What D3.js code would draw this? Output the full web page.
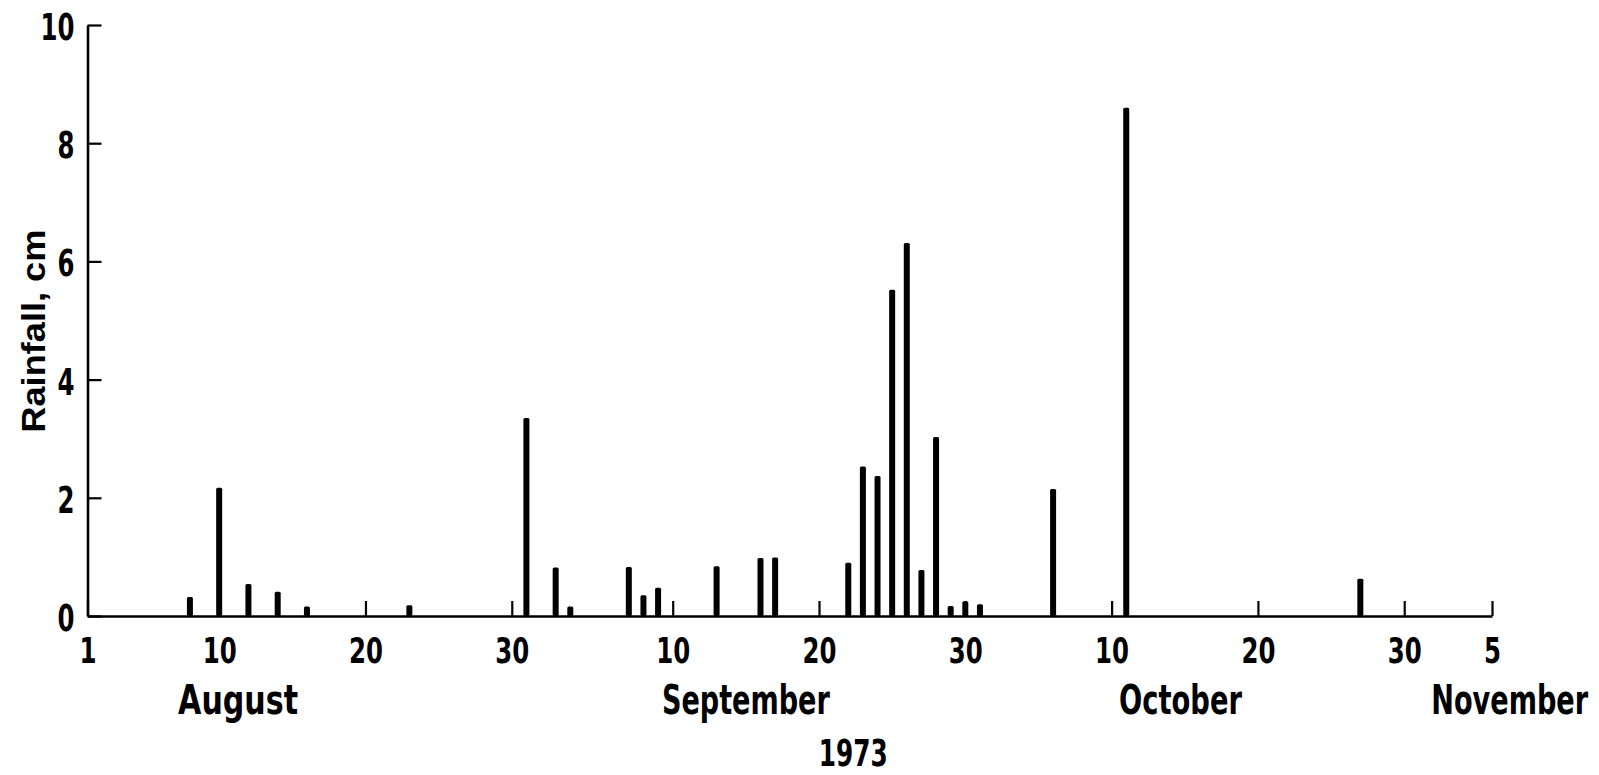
<!DOCTYPE html>
<html>
<head>
<meta charset="utf-8">
<script src="https://cdn.jsdelivr.net/npm/d3@7"></script>
<style>
  html, body { margin: 0; padding: 0; background: #fff; }
  svg { display: block; }
  .tick text { font-family: "Liberation Sans Narrow", "DejaVu Sans Condensed", sans-serif; font-weight: bold; fill: #000; }
  .lbl { font-family: "Liberation Sans Narrow", "DejaVu Sans Condensed", sans-serif; font-weight: bold; fill: #000; }
</style>
</head>
<body>
<svg id="chart" width="1599" height="775"></svg>
<script>
// ---- data ----
const rainDates = [
  "1973-08-08","1973-08-10","1973-08-12","1973-08-14","1973-08-16","1973-08-23","1973-08-31",
  "1973-09-02","1973-09-03","1973-09-07","1973-09-08","1973-09-09","1973-09-13","1973-09-16",
  "1973-09-17","1973-09-22","1973-09-23","1973-09-24","1973-09-25","1973-09-26","1973-09-27",
  "1973-09-28","1973-09-29","1973-09-30","1973-10-01","1973-10-06","1973-10-11","1973-10-27"
];
const rainfallCm = [
  0.32, 2.17, 0.54, 0.41, 0.16, 0.18, 3.35,
  0.82, 0.16, 0.83, 0.35, 0.48, 0.84, 0.98,
  0.99, 0.90, 2.53, 2.37, 5.52, 6.31, 0.78,
  3.03, 0.17, 0.25, 0.20, 2.15, 8.60, 0.63
];
const xTickDates  = ["1973-08-01","1973-08-10","1973-08-20","1973-08-30","1973-09-10","1973-09-20",
                     "1973-09-30","1973-10-10","1973-10-20","1973-10-30","1973-11-05"];
const xTickLabels = ["1","10","20","30","10","20","30","10","20","30","5"];
const yTickValues = [0, 2, 4, 6, 8, 10];
const monthLabels = ["August","September","October","November"];
const monthAnchors = ["1973-08-11T07:00Z","1973-09-15T00:00Z","1973-10-14T17:00Z","1973-11-06T05:00Z"];
const monthWidths = [120, 168, 123, 157];
const yearLabel = "1973";
const yearAnchor = "1973-09-22T08:00Z";
const yAxisTitle = "Rainfall, cm";

// ---- scales ----
const parse = s => new Date(s.length === 10 ? s + "T00:00Z" : s);
const x = d3.scaleUtc()
  .domain([parse("1973-08-01"), parse("1973-11-05")])
  .range([87.5, 1492]);
const y = d3.scaleLinear().domain([0, 10]).range([616, 25]);

const svg = d3.select("#chart");

// squeeze a text horizontally to a target width around its anchor point
function squeeze(sel, tx, ty, widthFn) {
  sel.each(function (d, i) {
    const t = d3.select(this);
    const w = this.getComputedTextLength();
    const target = widthFn(d, i, this);
    const sx = w > 0 ? target / w : 1;
    const px = typeof tx === "function" ? tx(d, i) : tx;
    const py = typeof ty === "function" ? ty(d, i) : ty;
    t.attr("x", 0).attr("y", 0)
     .attr("transform", `translate(${px},${py}) scale(${sx},1)`);
  });
}

// ---- bars ----
const barW = 6;
svg.append("g").selectAll("rect")
  .data(rainDates.map((d, i) => ({ date: parse(d), v: rainfallCm[i] })))
  .join("rect")
  .attr("x", d => x(d.date) - barW / 2)
  .attr("y", d => y(d.v))
  .attr("width", barW)
  .attr("height", d => y(0) - y(d.v))
  .attr("rx", 1.5)
  .attr("fill", "#000");

// ---- x axis ----
const xAxis = d3.axisBottom(x)
  .tickValues(xTickDates.map(parse))
  .tickFormat((d, i) => xTickLabels[i])
  .tickSizeInner(-15)
  .tickSizeOuter(0);
const gx = svg.append("g").attr("transform", `translate(0,${y(0)})`).call(xAxis);
gx.select(".domain").attr("stroke", "#000").attr("stroke-width", 2.6);
gx.selectAll(".tick line").attr("stroke", "#000").attr("stroke-width", 2.2);
const xt = gx.selectAll(".tick text").attr("dy", 0).style("font-size", "36px");
squeeze(xt, 0, 47, (d, i, el) => 17 * el.textContent.length);

// ---- y axis ----
const yAxis = d3.axisLeft(y)
  .tickValues(yTickValues)
  .tickFormat(d3.format("d"))
  .tickSizeInner(-14)
  .tickSizeOuter(0)
  .tickPadding(13);
const gy = svg.append("g").attr("transform", `translate(${x(parse("1973-08-01"))},0)`).call(yAxis);
gy.select(".domain").attr("stroke", "#000").attr("stroke-width", 2.6);
gy.selectAll(".tick line").attr("stroke", "#000").attr("stroke-width", 2.2);
const yt = gy.selectAll(".tick text").attr("dy", "0.38em").style("font-size", "38px");
squeeze(yt, -13, 0, (d, i, el) => 17 * el.textContent.length);

// ---- labels ----
const ml = svg.append("g").selectAll("text")
  .data(monthLabels)
  .join("text")
  .attr("class", "lbl")
  .attr("text-anchor", "middle")
  .style("font-size", "40px")
  .text(d => d);
squeeze(ml, (d, i) => x(parse(monthAnchors[i])), 714, (d, i) => monthWidths[i]);

const yl = svg.append("text")
  .attr("class", "lbl")
  .attr("text-anchor", "middle")
  .style("font-size", "37px")
  .text(yearLabel);
squeeze(yl, x(parse(yearAnchor)), 766, () => 69);

svg.append("text")
  .attr("transform", `translate(45,${y(4.82)}) rotate(-90)`)
  .attr("text-anchor", "middle")
  .style("font-family", "'Liberation Sans', Arial, sans-serif")
  .style("font-weight", "bold")
  .style("font-size", "33px")
  .attr("textLength", 203)
  .attr("lengthAdjust", "spacingAndGlyphs")
  .attr("fill", "#000")
  .text(yAxisTitle);
</script>
</body>
</html>
